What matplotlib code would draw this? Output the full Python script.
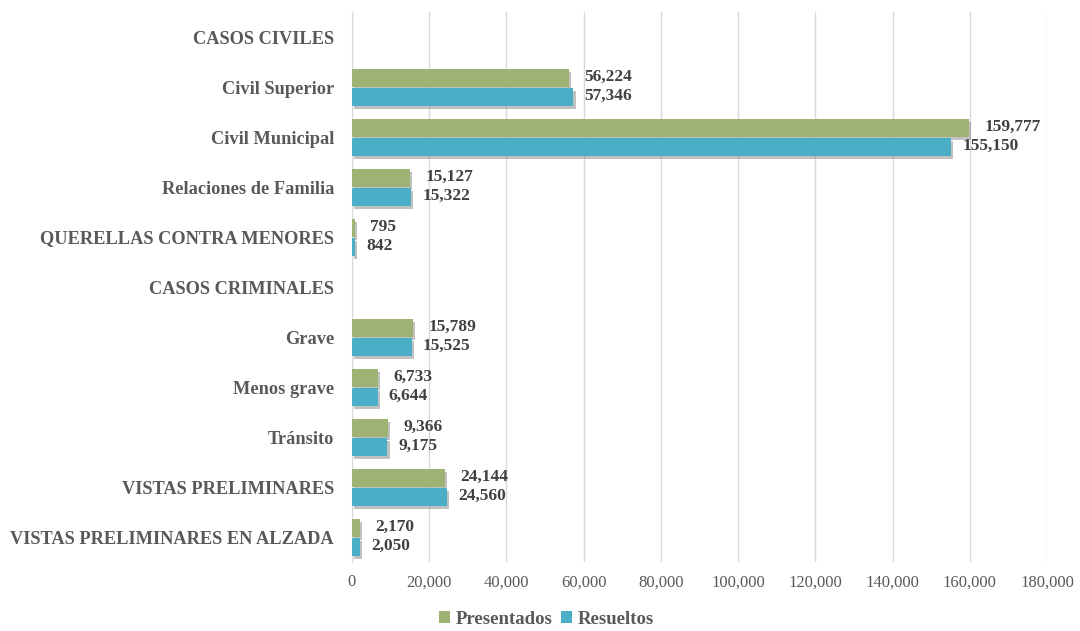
import numpy as np
import matplotlib
matplotlib.use("Agg")
import matplotlib.pyplot as plt
import matplotlib.patheffects as pe

categorias = ['CASOS CIVILES', 'Civil Superior', 'Civil Municipal', 'Relaciones de Familia',
              'QUERELLAS CONTRA MENORES', 'CASOS CRIMINALES', 'Grave', 'Menos grave',
              'Tránsito', 'VISTAS PRELIMINARES', 'VISTAS PRELIMINARES EN ALZADA']
presentados = [None, 56224, 159777, 15127, 795, None, 15789, 6733, 9366, 24144, 2170]
resueltos = [None, 57346, 155150, 15322, 842, None, 15525, 6644, 9175, 24560, 2050]

plt.rcParams['font.family'] = ['Liberation Serif', 'DejaVu Serif']
gris = '#595959'
verde = '#9db273'
azul = '#4aafc6'

fig = plt.figure(figsize=(10.8, 6.31), dpi=100)
ax = fig.add_axes([352/1080, 1-562/631, (1047-352)/1080, 550/631])

y = np.arange(len(categorias))
h = 0.36
sombra = [pe.SimplePatchShadow(offset=(1.5, -2.5), shadow_rgbFace='#777777', alpha=0.45), pe.Normal()]

for i in range(len(categorias)):
    if presentados[i] is None:
        continue
    b1 = ax.barh(y[i] - h/2 - 0.01, presentados[i], height=h, color=verde, zorder=3,
                 label='Presentados' if i == 1 else None)
    b2 = ax.barh(y[i] + h/2 + 0.01, resueltos[i], height=h, color=azul, zorder=3,
                 label='Resueltos' if i == 1 else None)
    for b in list(b1) + list(b2):
        b.set_path_effects(sombra)
    ax.annotate(f'{presentados[i]:,}', (presentados[i], y[i] - h/2), xytext=(11, 1),
                textcoords='offset points', va='center', ha='left', fontsize=12.5,
                fontweight='bold', color='#404040')
    ax.annotate(f'{resueltos[i]:,}', (resueltos[i], y[i] + h/2), xytext=(8, 0),
                textcoords='offset points', va='center', ha='left', fontsize=12.5,
                fontweight='bold', color='#404040')

ax.set_ylim(len(categorias) - 0.5, -0.5)
ax.set_xlim(0, 180000)
ax.set_xticks(np.arange(0, 180001, 20000))
ax.set_xticklabels([f'{v:,}' for v in range(0, 180001, 20000)])
ax.set_yticks(y)
ax.set_yticklabels(categorias, fontweight='bold', fontsize=13.2, color=gris)
ax.tick_params(axis='x', colors=gris, labelsize=12, length=0, pad=9)
ax.tick_params(axis='y', length=0, pad=13)
ax.grid(axis='x', color='#d9d9d9', linewidth=1, zorder=0)
for s in ['top', 'right', 'bottom']:
    ax.spines[s].set_visible(False)
ax.spines['left'].set_color('#d9d9d9')

leg = fig.legend(loc='lower center', bbox_to_anchor=(0.506, -0.022), ncol=2, frameon=False,
                 prop={'weight': 'bold', 'size': 13.5}, handlelength=0.6, handleheight=0.6,
                 columnspacing=0.45, handletextpad=0.3)
for t in leg.get_texts():
    t.set_color(gris)
for hnd in leg.legend_handles:
    hnd.set_path_effects([])

fig.savefig('out.png', dpi=100)
